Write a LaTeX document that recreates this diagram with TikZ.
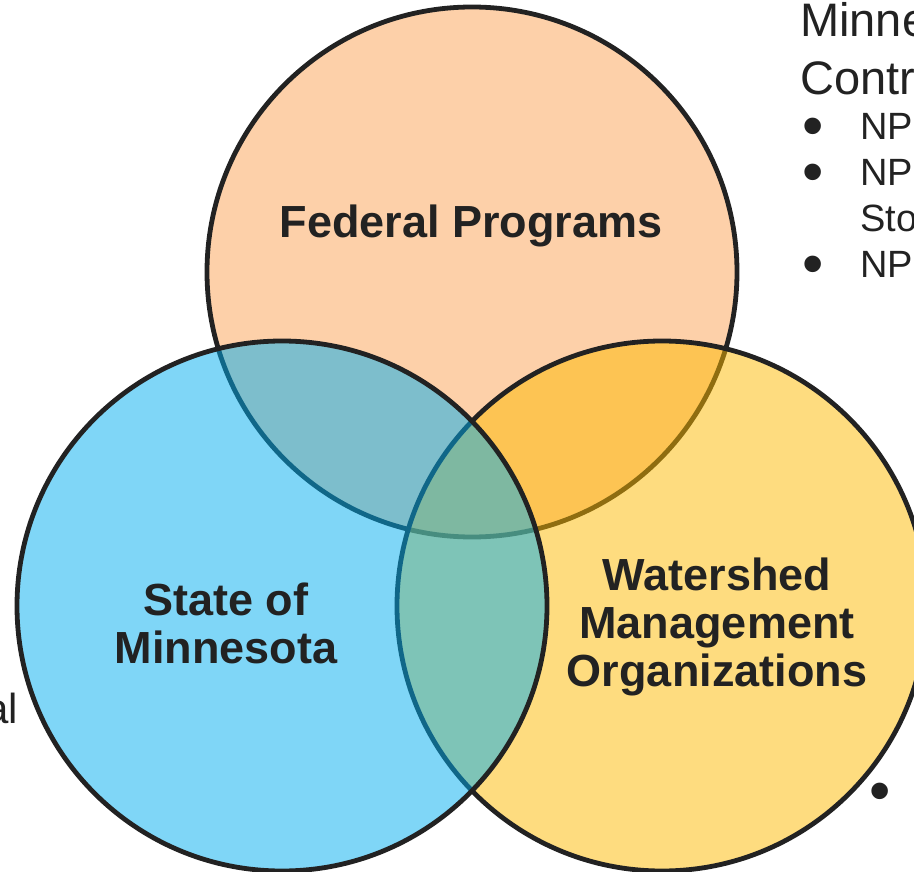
\documentclass[tikz,border=0pt]{standalone}
\usepackage{fontspec}
\setmainfont{Liberation Sans}
\usepackage{xcolor}
\usepackage{graphicx}
\usepackage{tikz}

\definecolor{inkgray}{HTML}{222222}
\definecolor{fedpeach}{HTML}{FBA153}
\definecolor{wmoyellow}{HTML}{FDB900}
\definecolor{stateblue}{HTML}{00ADEF}

% a larger bullet, as on the slide
\newcommand{\slidebullet}{\raisebox{-7pt}{\scalebox{1.6}{•}}}

\begin{document}
\begin{tikzpicture}[
    x=1pt, y=-1pt,
    set/.style={draw=inkgray, line width=4.8pt, fill opacity=0.5},
    setlabel/.style={font=\bfseries\fontsize{45}{48}\selectfont, text=inkgray,
        inner sep=0pt, align=center, anchor=base},
    sidetext/.style={text=inkgray, inner sep=0pt, anchor=base west, align=left}
]
\useasboundingbox (0,0) rectangle (914,872);
\clip (0,0) rectangle (914,872);

% The three sets (top, right, left)
\draw[set, fill=fedpeach] (472,272) circle[radius=265];
\draw[set, fill=wmoyellow] (662,606) circle[radius=265];
\draw[set, fill=stateblue] (282,606) circle[radius=265];

% Set labels
\node[setlabel] (fed) at (471,238) {Federal Programs};
\node[setlabel] (state) at (226,663) {State of\\Minnesota};
\node[setlabel] (wmo) at (717,686) {Watershed\\Management\\Organizations};

% Side text, cut by the slide edge
\node[sidetext, font=\fontsize{47}{58}\selectfont] (agency) at (800,95)
    {Minnesota\\Control};
\node[sidetext, font=\fontsize{38}{46}\selectfont] (permits) at (802,277)
    {\makebox[58pt][l]{\slidebullet}NPDES\\
     \makebox[58pt][l]{\slidebullet}NPDES\\
     \hspace*{58pt}Stormwater\\
     \makebox[58pt][l]{\slidebullet}NPDES};
\node[sidetext, anchor=base east, font=\fontsize{42}{48}\selectfont] (local) at (18,723) {Local};
\node[sidetext, font=\fontsize{38}{46}\selectfont] (lastitem) at (869,804) {\slidebullet};

\end{tikzpicture}
\end{document}
